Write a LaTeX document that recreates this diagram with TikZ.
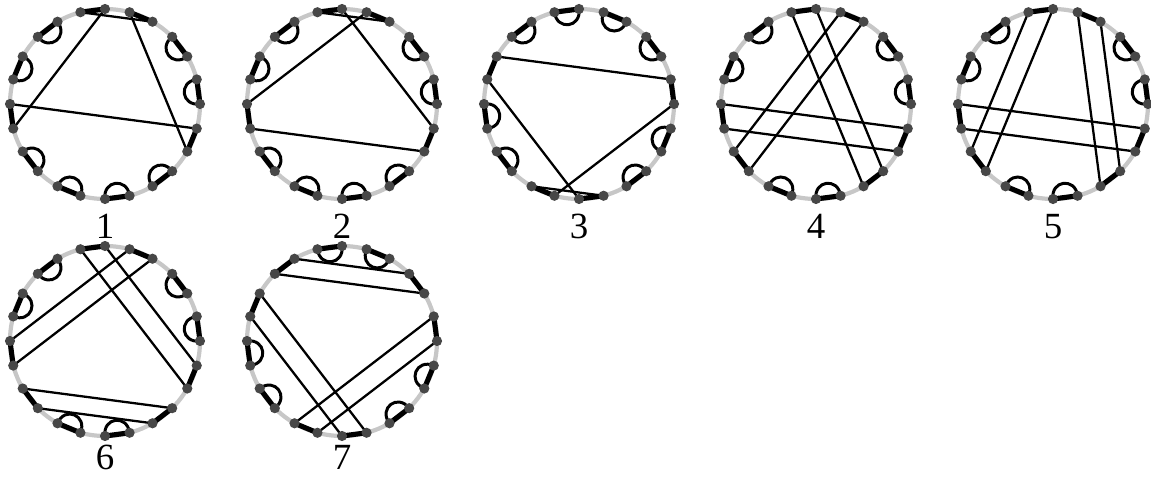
\documentclass[tikz,border=0pt]{standalone}
\usepackage{fontspec}
\setmainfont{Liberation Serif}
\tikzset{
  ring/.style={draw=black!22, line width=2.4pt},
  dot/.style={circle, fill=black!72, draw=none, inner sep=0pt, minimum size=5.8pt},
  chord/.style={draw=black, line width=1.3pt},
  pairedge/.style={draw=black, line width=2.9pt, line cap=round},
  loopedge/.style={draw=black, line width=1.7pt},
  lbl/.style={font=\fontsize{21}{25}\selectfont, anchor=base, inner sep=0pt}
}
% #1 name, #2 cx, #3 cy, #4 loop pairs, #5 chords, #6 label, #7 label baseline y
\newcommand\wheel[7]{%
  \begin{scope}[shift={(#2,#3)}]
    \draw[ring] (0,0) circle[radius=95];
    \foreach \k in {0,...,23}{
      \coordinate (#1p\k) at ({105-15*\k}:95);
    }
  \end{scope}
  \foreach \u/\v in {#5}{
    \draw[chord] (#1p\u) -- (#1p\v);
  }
  \foreach \j in {0,...,11}{
    \pgfmathtruncatemacro\pa{2*\j}
    \pgfmathtruncatemacro\pb{2*\j+1}
    \draw[pairedge] (#1p\pa) -- (#1p\pb);
  }
  \foreach \j in {#4}{
    \pgfmathtruncatemacro\pa{2*\j}
    \pgfmathtruncatemacro\pb{2*\j+1}
    \pgfmathsetmacro\m{97.5-30*\j+180}
    \draw[loopedge] (#1p\pa) to[out=\m, in=\m, looseness=1.95] (#1p\pb);
  }
  \foreach \k in {0,...,23}{
    \node[dot] (#1d\k) at (#1p\k) {};
  }
  \node[lbl] (#1lab) at (#2,#7) {#6};
}
\begin{document}
\begin{tikzpicture}[x=0.02cm, y=0.02cm]
  \useasboundingbox (0,0) rectangle (1151,477);
  \wheel{a}{105}{373}{2,3,5,6,7,8,10,11}{0/3,1/18,2/9,19/8}{1}{239}
  \wheel{b}{342}{373}{2,3,5,6,7,8,10,11}{0/3,1/8,2/19,18/9}{2}{239}
  \wheel{c}{579}{373}{0,1,2,4,5,8,9,11}{21/6,20/13,7/14,15/12}{3}{239}
  \wheel{d}{816}{373}{2,3,6,7,10,11}{0/11,1/10,2/17,3/16,19/8,18/9}{4}{239}
  \wheel{e}{1053}{373}{2,3,6,7,10,11}{0/17,1/16,2/11,3/10,19/8,18/9}{5}{239}
  \wheel{f}{105}{136}{2,3,6,7,10,11}{0/9,1/8,2/19,3/18,17/10,16/11}{6}{8}
  \wheel{g}{342}{136}{0,1,4,5,8,9}{23/4,22/5,21/12,20/13,6/15,7/14}{7}{8}
\end{tikzpicture}
\end{document}
